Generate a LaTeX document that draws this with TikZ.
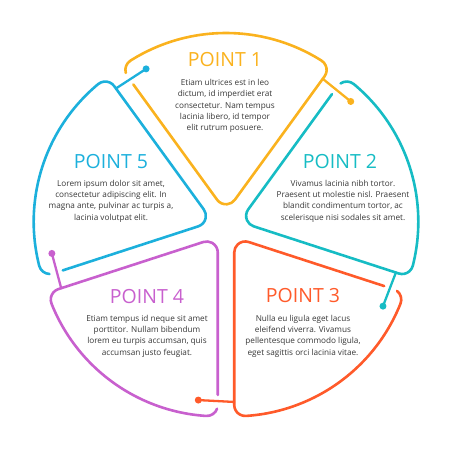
\documentclass[tikz,border=0pt]{standalone}
\usepackage{fontspec}
\setmainfont{Open Sans}
\usepackage{xcolor}
\usetikzlibrary{calc}

\definecolor{pointA}{RGB}{250,178,30}
\definecolor{pointB}{RGB}{22,188,196}
\definecolor{pointC}{RGB}{255,90,42}
\definecolor{pointD}{RGB}{200,96,206}
\definecolor{pointE}{RGB}{28,176,220}
\definecolor{bodygray}{RGB}{55,55,55}

\tikzset{
  slice/.style={line width=2.6pt, line cap=round, line join=round},
  link/.style={line width=2.3pt, line cap=round},
  pttitle/.style={font=\fontsize{19.5}{21}\selectfont, inner sep=0pt},
  ptbody/.style={font=\fontsize{8.2}{11.25}\selectfont, text=bodygray, align=center, inner sep=0pt},
}

\begin{document}
\begin{tikzpicture}[x=1pt, y=1pt]
  \useasboundingbox (-226,-224) rectangle (224,226);
  % geometry of the exploded pie
  \def\R{179}   % outer radius
  \def\off{14}  % offset of each slice
  \def\rc{11}   % outer corner radius
  \def\rca{11}  % apex corner radius
  \pgfmathsetmacro{\bt}{asin(\rc/(\R-\rc))}
  \pgfmathsetmacro{\Lt}{(\R-\rc)*cos(\bt)}
  \pgfmathsetmacro{\Ta}{\rca/tan(36)}
  % Slices and links
  \foreach \ang/\c/\n in {90/pointA/1, 18/pointB/2, -54/pointC/3, -126/pointD/4, 162/pointE/5} {
    \pgfmathsetmacro{\ccw}{\ang+36}
    \pgfmathsetmacro{\cw}{\ang-36}
    \coordinate (o\n) at (\ang:\off);
    \draw[slice, \c] ($(o\n)+(\ccw:\Lt-10)$)
      -- ($(o\n)+(\ccw:\Ta)$)
      arc[start angle=\ccw+90, end angle=\ccw+198, radius=\rca]
      -- ($(o\n)+(\cw:\Lt)$)
      arc[start angle=\cw-90, end angle=\cw+\bt, radius=\rc]
      arc[start angle=\cw+\bt, end angle=\ccw-\bt, radius=\R]
      arc[start angle=\ccw-\bt, end angle=\ccw+70, radius=\rc];
    \coordinate (s\n) at ($(o\n)+(\cw:\Lt-3)$);
    \coordinate (e\n) at ($(s\n)+(\cw-93:36)$);
    \draw[link, \c] (s\n) -- (e\n);
    \fill[\c] (e\n) circle (3.5);
  }
  % Texts
  \node[pttitle, pointA] (t1) at (-1,166) {POINT 1};
  \node[ptbody] (b1) at (-1,120) {Etiam ultrices est in leo\\dictum, id imperdiet erat\\consectetur. Nam tempus\\lacinia libero, id tempor\\elit rutrum posuere.};
  \node[pttitle, pointB] (t2) at (114,64) {POINT 2};
  \node[ptbody] (b2) at (117,25) {Vivamus lacinia nibh tortor.\\Praesent ut molestie nisl. Praesent\\blandit condimentum tortor, ac\\scelerisque nisi sodales sit amet.};
  \node[pttitle, pointC] (t3) at (77,-70) {POINT 3};
  \node[ptbody] (b3) at (77,-110) {Nulla eu ligula eget lacus\\eleifend viverra. Vivamus\\pellentesque commodo ligula,\\eget sagittis orci lacinia vitae.};
  \node[pttitle, pointD] (t4) at (-79,-71) {POINT 4};
  \node[ptbody] (b4) at (-79,-110) {Etiam tempus id neque sit amet\\porttitor. Nullam bibendum\\lorem eu turpis accumsan, quis\\accumsan justo feugiat.};
  \node[pttitle, pointE] (t5) at (-115,64) {POINT 5};
  \node[ptbody] (b5) at (-115,25) {Lorem ipsum dolor sit amet,\\consectetur adipiscing elit. In\\magna ante, pulvinar ac turpis a,\\lacinia volutpat elit.};
\end{tikzpicture}
\end{document}
